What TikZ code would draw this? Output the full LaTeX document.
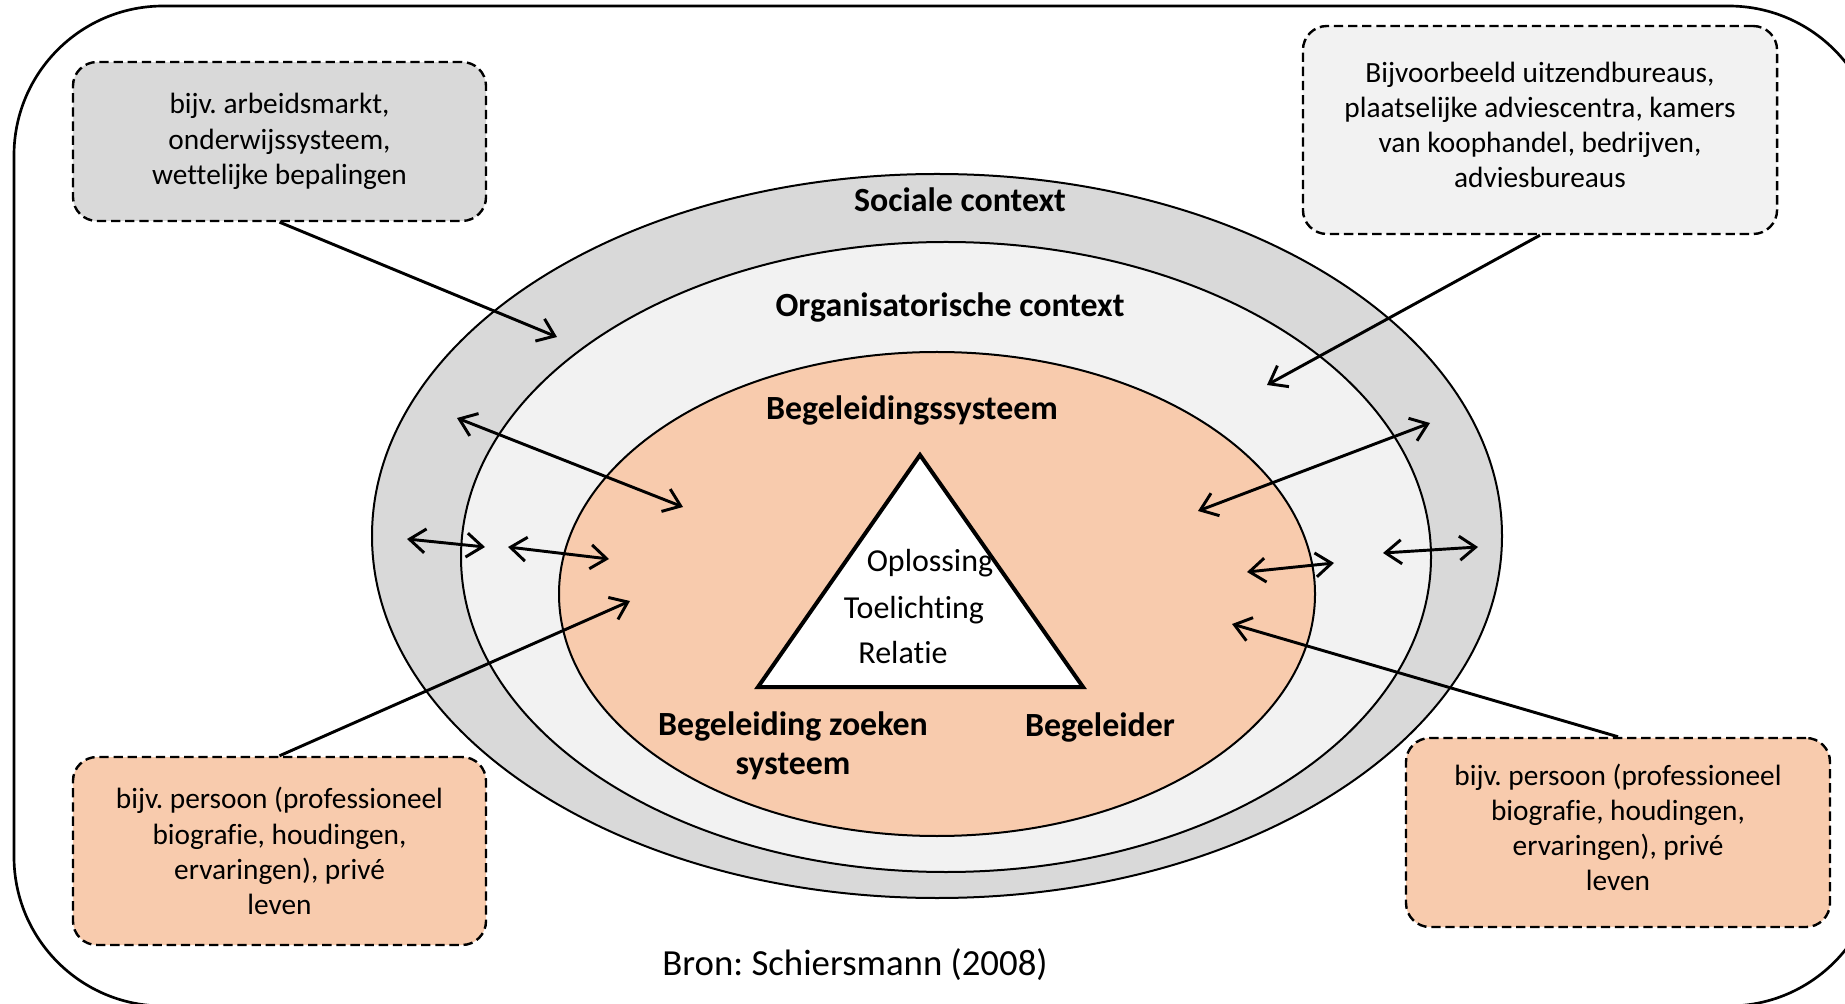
\documentclass[tikz,border=0pt]{standalone}
\usepackage{fontspec}
\setmainfont{Carlito}[Ligatures=NoCommon]
\usetikzlibrary{arrows.meta}

\definecolor{socialgray}{HTML}{D9D9D9}
\definecolor{orggray}{HTML}{F2F2F2}
\definecolor{peach}{HTML}{F8CBAD}

\tikzset{
  infobox/.style={draw, dash pattern=on 3.5pt off 1.8pt, line width=0.9pt,
    rounded corners=9pt, align=center, inner sep=0pt,
    font=\fontsize{11}{13.2}\selectfont},
  ring/.style={draw, line width=0.75pt},
  ringname/.style={font=\fontsize{12.7}{14.6}\selectfont\bfseries, align=center},
  inside/.style={font=\fontsize{12}{14}\selectfont},
  feed/.style={line width=1.1pt, -{Straight Barb[length=6pt,width=9pt]}},
  twoway/.style={line width=1.1pt,
    {Straight Barb[length=6pt,width=9pt]}-{Straight Barb[length=6pt,width=9pt]}},
}

\frenchspacing

\begin{document}
\begin{tikzpicture}[x=0.375pt, y=-0.375pt]

    % Page frame (picture is cut at the right)
    \clip (0,0) rectangle (1845,1004);
    \draw[line width=1pt, rounded corners=56pt] (14,6) rectangle (1878,1006);

    % Sociale context
    \draw[ring, fill=socialgray] (937,536) ellipse (565 and 362);

    % Organisatorische context
    \draw[ring, fill=orggray] (946,557) ellipse (485 and 315);

    % Begeleidingssysteem
    \draw[ring, fill=peach] (937,594) ellipse (378 and 242);

    % Triangle corners
    \coordinate (T) at (920,455);
    \coordinate (L) at (758,687);
    \coordinate (R) at (1083,687);

    % Draw the triangle
    \draw[line width=1.5pt, fill=white] (T) -- (L) -- (R) -- cycle;

    % Texts inside the triangle
    \node[inside] (oplossing) at (930,563) {Oplossing};
    \node[inside] (toelichting) at (914,610) {Toelichting};
    \node[inside] (relatie) at (903,653) {Relatie};

    % Ring names
    \node[ringname] (sociaal) at (960,200) {Sociale context};
    \node[ringname] (organisatie) at (950,307) {Organisatorische context};
    \node[ringname] (systeem) at (912,410) {Begeleidingssysteem};
    \node[ringname] (zoeker) at (793,746) {Begeleiding zoeken\\systeem};
    \node[ringname] (begeleider) at (1100,727) {Begeleider};

    % Example boxes
    \node[infobox, fill=socialgray, minimum width=154.9pt, minimum height=59.6pt]
      (markt) at (279.5,141.5) {bijv. arbeidsmarkt,\\onderwijssysteem,\\wettelijke bepalingen};
    \node[infobox, fill=orggray, minimum width=177.8pt, minimum height=78pt, text depth=4pt]
      (bureaus) at (1540,130) {Bijvoorbeeld uitzendbureaus,\\plaatselijke adviescentra, kamers\\van koophandel, bedrijven,\\adviesbureaus};
    \node[infobox, fill=peach, minimum width=154.9pt, minimum height=70.5pt]
      (persoonL) at (279.5,851) {bijv. persoon (professioneel\\biografie, houdingen,\\ervaringen), privé\\leven};
    \node[infobox, fill=peach, minimum width=159pt, minimum height=70.9pt, text depth=4pt]
      (persoonR) at (1618,832.5) {bijv. persoon (professioneel\\biografie, houdingen,\\ervaringen), privé\\leven};

    % Arrow ends
    \coordinate (inS) at (557,337);
    \coordinate (inO) at (1267,385);
    \coordinate (inL) at (630,601);
    \coordinate (inR) at (1232,624);

    % Arrows from the boxes into the rings
    \draw[feed] (markt.south) -- (inS);
    \draw[feed] (bureaus.south) -- (inO);
    \draw[feed] (persoonL.north) -- (inL);
    \draw[feed] (persoonR.north) -- (inR);

    % Ends of the two-way arrows
    \coordinate (a1) at (457,418);
    \coordinate (b1) at (683,507);
    \coordinate (a2) at (407,539);
    \coordinate (b2) at (485,547);
    \coordinate (a3) at (508,547);
    \coordinate (b3) at (609,559);
    \coordinate (a4) at (1430,423);
    \coordinate (b4) at (1198,511);
    \coordinate (a5) at (1247,572);
    \coordinate (b5) at (1334,563);
    \coordinate (a6) at (1383,553);
    \coordinate (b6) at (1478,547);

    % Two-way arrows between the rings
    \foreach \i in {1,...,6} {
      \draw[twoway] (a\i) -- (b\i);
    }

    % Source
    \node[font=\fontsize{13.8}{16}\selectfont] (bron) at (855,965) {Bron: Schiersmann (2008)};

\end{tikzpicture}
\end{document}
